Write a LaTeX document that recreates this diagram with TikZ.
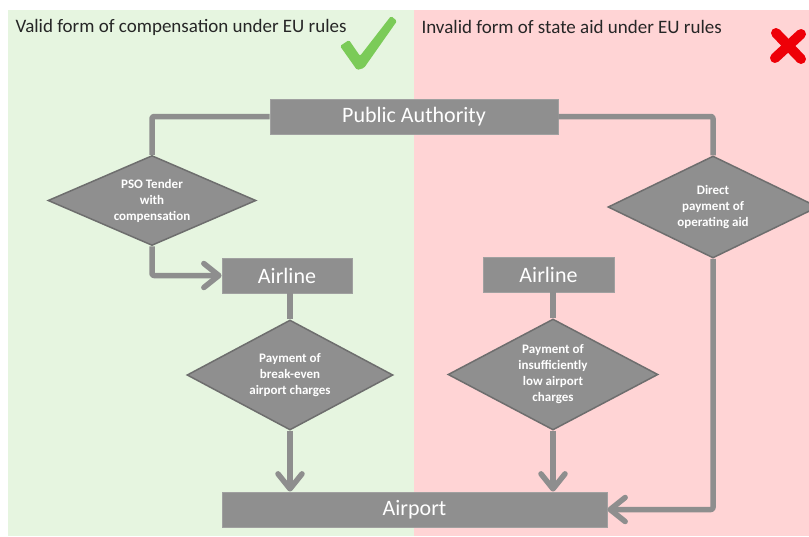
\documentclass[tikz,border=0pt]{standalone}
\usepackage{fontspec}
\setmainfont{Carlito}
\usetikzlibrary{shapes.geometric,arrows.meta}
\definecolor{bggreen}{HTML}{E6F5E0}
\definecolor{bgpink}{HTML}{FFD4D5}
\definecolor{boxgrey}{HTML}{8F8F8F}
\definecolor{linegrey}{HTML}{8E8E8E}
\definecolor{edgegrey}{HTML}{6E6E6E}
\definecolor{checkgreen}{HTML}{7BCB58}
\definecolor{xred}{HTML}{EE0008}
\tikzset{
  rectbox/.style={rectangle, fill=boxgrey, draw=boxgrey!85!white, line width=0.8pt, text=white, font=\fontsize{22}{24}\selectfont, inner sep=0pt},
  dia/.style={diamond, aspect=2, fill=boxgrey, draw=edgegrey, line width=1.5pt, text=white, inner sep=0pt, align=center, font=\bfseries\fontsize{13}{16}\selectfont},
  conn/.style={draw=linegrey, line width=5.5pt, line join=round, rounded corners=2pt},
  tip/.style={-{Straight Barb[length=15pt,width=24pt,round]}},
  header/.style={anchor=west, font=\fontsize{19}{21}\selectfont, text=black!85}
}
\begin{document}
\begin{tikzpicture}[x=1pt,y=-1pt]
\useasboundingbox (0,0) rectangle (809,536);
\fill[white] (0,0) rectangle (809,536);
\fill[bggreen] (8,10) rectangle (414,536);
\fill[bgpink] (414,10) rectangle (809,536);
\node[header] (hl) at (12,27) {Valid form of compensation under EU rules};
\node[header] (hr) at (418,27) {Invalid form of state aid under EU rules};
% check mark
\fill[checkgreen, rounded corners=1.5pt] (340,46) -- (349,40) -- (360,56) -- (391,16) -- (397,21) -- (364,68) -- (357,70) -- cycle;
% red cross
\draw[xred, line width=10pt, line cap=round] (776,33) -- (801,59);
\draw[xred, line width=10pt, line cap=round] (775,58) -- (801,34);
% nodes
\node[rectbox, minimum width=288, minimum height=35] (pa) at (414,116.5) {Public Authority};
\node[dia, minimum width=208, minimum height=90] (d1) at (152,200.5) {PSO Tender\\with\\compensation};
\node[dia, minimum width=210, minimum height=102] (d3) at (713,207) {Direct\\payment of\\operating aid};
\node[rectbox, minimum width=130, minimum height=35] (a1) at (287,275.5) {Airline};
\node[rectbox, minimum width=131, minimum height=35] (a2) at (548.5,274.5) {Airline};
\node[dia, minimum width=206, minimum height=110] (d2) at (290,375) {Payment of\\break-even\\airport charges};
\node[dia, minimum width=210, minimum height=111] (d4) at (553,374.5) {Payment of\\insufficiently\\low airport\\charges};
\node[rectbox, minimum width=385, minimum height=35] (ap) at (414.5,509.5) {Airport};
% connectors
\draw[conn] (pa.west) -| (d1.north);
\draw[conn] (pa.east) -| (d3.north);
\draw[conn, tip] (d1.south) |- (a1.west);
\draw[conn] (a1.south -| d2.north) -- (d2.north);
\draw[conn] (a2.south -| d4.north) -- (d4.north);
\draw[conn, tip] (d2.south) -- (d2.south |- ap.north);
\draw[conn, tip] (d4.south) -- (d4.south |- ap.north);
\draw[conn, tip] (d3.south) |- (ap.east);
\end{tikzpicture}
\end{document}
